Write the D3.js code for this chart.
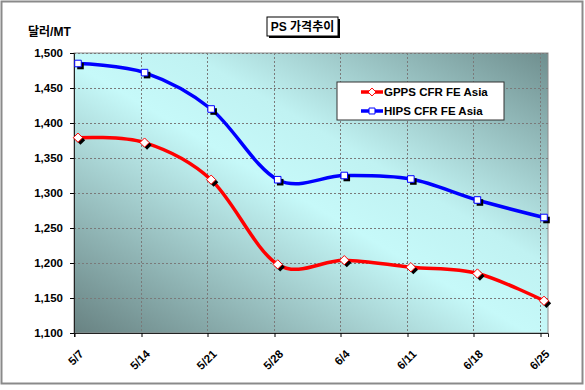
<!DOCTYPE html>
<html>
<head>
<meta charset="utf-8">
<script src="https://cdn.jsdelivr.net/npm/d3@7"></script>
<style>
  body { margin: 0; background: #fff; }
  text { font-family: "Liberation Sans", Arial, "Noto Sans CJK KR", sans-serif; font-weight: bold; }
</style>
</head>
<body>
<div id="chart"></div>
<script>
// Data
const dates = ['5/7', '5/14', '5/21', '5/28', '6/4', '6/11', '6/18', '6/25']
const gpps = [1379, 1372, 1319, 1198, 1204, 1194, 1185, 1146]
const hips = [1485, 1472, 1420, 1319, 1325, 1320, 1290, 1265]
const yTicks = [1100, 1150, 1200, 1250, 1300, 1350, 1400, 1450, 1500]

const dimensions = {
  width: 585,
  height: 390,
  left: 74,
  right: 548,
  top: 53,
  bottom: 333
}

const svg = d3.select('#chart')
  .append('svg')
  .attr('width', dimensions.width)
  .attr('height', dimensions.height)

const defs = svg.append('defs')
const grad = defs.append('linearGradient')
  .attr('id', 'bg')
  .attr('x1', 0).attr('y1', 1)
  .attr('x2', 1).attr('y2', 0)
grad.append('stop').attr('offset', 0).attr('stop-color', '#688282')
grad.append('stop').attr('offset', 0.48).attr('stop-color', '#c6f9f9')
grad.append('stop').attr('offset', 0.62).attr('stop-color', '#c0f2f2')
grad.append('stop').attr('offset', 1).attr('stop-color', '#6f8e8e')

// outer frame
svg.append('rect')
  .attr('x', 1.5).attr('y', 1.5)
  .attr('width', 581).attr('height', 382)
  .attr('fill', '#fff')
  .attr('stroke', '#8a8a8a')
  .attr('stroke-width', 2)

// Scales
const xScale = d3.scaleLinear()
  .domain([0, 7.12])
  .range([dimensions.left, dimensions.right])

const yScale = d3.scaleLinear()
  .domain([1100, 1500])
  .range([dimensions.bottom, dimensions.top])

// plot area
svg.append('rect')
  .attr('x', dimensions.left)
  .attr('y', dimensions.top)
  .attr('width', dimensions.right - dimensions.left)
  .attr('height', dimensions.bottom - dimensions.top)
  .attr('fill', 'url(#bg)')
  .attr('stroke', '#8c8c8c')

// grid
const grid = svg.append('g')
grid.selectAll('.hg')
  .data(yTicks.slice(1))
  .join('line')
  .attr('x1', dimensions.left).attr('x2', dimensions.right)
  .attr('y1', d => yScale(d) + 0.5).attr('y2', d => yScale(d) + 0.5)
  .attr('stroke', '#7a7a7a')
  .attr('stroke-dasharray', '2,2')
grid.selectAll('.vg')
  .data(d3.range(1, dates.length))
  .join('line')
  .attr('x1', d => Math.round(xScale(d)) + 0.5).attr('x2', d => Math.round(xScale(d)) + 0.5)
  .attr('y1', dimensions.top).attr('y2', dimensions.bottom)
  .attr('stroke', '#7a7a7a')
  .attr('stroke-dasharray', '2,2')

// Axes
const yAxis = d3.axisLeft(yScale)
  .tickValues(yTicks)
  .tickFormat(d3.format(','))
  .tickSize(4)
  .tickPadding(7)
const yAxisGroup = svg.append('g')
  .attr('transform', `translate(${dimensions.left}, 0)`)
  .call(yAxis)
yAxisGroup.select('.domain').attr('stroke', '#222')
yAxisGroup.selectAll('text').attr('font-size', 11.5).attr('fill', '#000')
  .style('font-family', '"Liberation Sans", Arial, sans-serif').style('font-weight', 'bold')

const xAxis = d3.axisBottom(xScale)
  .tickValues(d3.range(dates.length))
  .tickFormat(i => dates[i])
  .tickSize(4)
const xAxisGroup = svg.append('g')
  .attr('transform', `translate(0, ${dimensions.bottom})`)
  .call(xAxis)
xAxisGroup.select('.domain').attr('stroke', '#222')
xAxisGroup.selectAll('.tick line').attr('transform', d => `translate(${Math.round(xScale(d)) + 0.5 - xScale(d)},0)`)
xAxisGroup.selectAll('text')
  .attr('font-size', 11.5)
  .attr('fill', '#000')
  .style('font-family', '"Liberation Sans", Arial, sans-serif').style('font-weight', 'bold')
  .attr('text-anchor', 'end')
  .attr('dy', '0.35em')
  .attr('transform', 'translate(2, 14) rotate(-45)')

// Lines
const offset = 0.06
const line = d3.line()
  .x((d, i) => xScale(i + offset))
  .y(d => yScale(d))
  .curve(d3.curveCatmullRom.alpha(0))

const series = [
  { name: 'GPPS CFR FE Asia', values: gpps, color: '#ff0000', marker: 'diamond' },
  { name: 'HIPS CFR FE Asia', values: hips, color: '#0000ff', marker: 'square' }
]

series.forEach(s => {
  svg.append('path')
    .datum(s.values)
    .attr('d', line)
    .attr('fill', 'none')
    .attr('stroke', s.color)
    .attr('stroke-width', 3.5)

  const sym = d3.symbol().type(s.marker === 'diamond' ? d3.symbolDiamond2 : d3.symbolSquare2).size(s.marker === 'diamond' ? 55 : 55)
  const pts = svg.append('g')
  // shadows
  pts.selectAll('.sh')
    .data(s.values)
    .join('path')
    .attr('d', sym)
    .attr('transform', (d, i) => `translate(${xScale(i + offset) + 2.5}, ${yScale(d) + 2.5})`)
    .attr('fill', '#000')
  pts.selectAll('.mk')
    .data(s.values)
    .join('path')
    .attr('class', 'mk')
    .attr('d', sym)
    .attr('transform', (d, i) => `translate(${xScale(i + offset)}, ${yScale(d)})`)
    .attr('fill', '#fff')
    .attr('stroke', s.color)
    .attr('stroke-width', 1)
})

// Legend
const legend = svg.append('g').attr('transform', 'translate(337, 82)')
legend.append('rect')
  .attr('width', 167).attr('height', 38)
  .attr('fill', '#fff')
  .attr('stroke', '#333')
series.forEach((s, i) => {
  const g = legend.append('g').attr('transform', `translate(0, ${10 + i * 19})`)
  g.append('line')
    .attr('x1', 60 - 337).attr('x2', 0)
  g.select('line').remove()
  g.append('line')
    .attr('x1', 24).attr('x2', 46)
    .attr('stroke', s.color).attr('stroke-width', 3.5)
  g.append('path')
    .attr('d', d3.symbol().type(s.marker === 'diamond' ? d3.symbolDiamond2 : d3.symbolSquare2).size(s.marker === 'diamond' ? 40 : 45))
    .attr('transform', 'translate(35, 0)')
    .attr('fill', '#fff')
    .attr('stroke', s.color)
  g.append('text')
    .attr('x', 47)
    .attr('dy', '0.35em')
    .attr('font-size', 11.5)
    .text(s.name)
})

// Title
const title = svg.append('g').attr('transform', 'translate(267, 17)')
title.append('rect').attr('x', 2).attr('y', 2).attr('width', 71).attr('height', 19).attr('fill', '#000')
title.append('rect').attr('width', 71).attr('height', 19).attr('fill', '#fff').attr('stroke', '#000')
title.append('text')
  .attr('x', 35.5).attr('y', 14)
  .attr('text-anchor', 'middle')
  .attr('font-size', 12)
  .style('font-family', '"Liberation Sans", "Noto Sans CJK KR", sans-serif')
  .text('PS 가격추이')

// Y unit label
svg.append('text')
  .attr('x', 28).attr('y', 36)
  .attr('font-size', 12)
  .style('font-family', '"Liberation Sans", "Noto Sans CJK KR", sans-serif')
  .text('달러/MT')
</script>
</body>
</html>
